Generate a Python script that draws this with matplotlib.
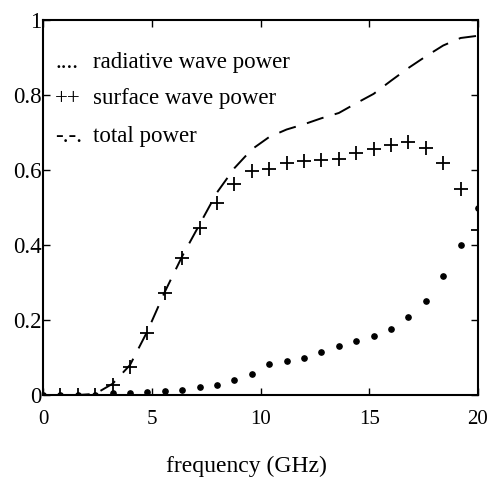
import numpy as np
import matplotlib
matplotlib.use('Agg')
import matplotlib.pyplot as plt

plt.rcParams['font.family'] = ['Liberation Serif', 'DejaVu Serif']

# frequency samples (GHz), step 0.8
freq = [0.0, 0.8, 1.6, 2.4, 3.2, 4.0, 4.8, 5.6, 6.4, 7.2, 8.0, 8.8, 9.6,
        10.4, 11.2, 12.0, 12.8, 13.6, 14.4, 15.2, 16.0, 16.8, 17.6, 18.4, 19.2, 20.0]

radiative = [0, 0, 0, 0, 0.006, 0.006, 0.007, 0.010, 0.014, 0.021, 0.027, 0.039, 0.056,
             0.084, 0.092, 0.099, 0.114, 0.130, 0.145, 0.158, 0.177, 0.208, 0.252, 0.318,
             0.400, 0.500]

surface = [0, 0, 0, 0, 0.027, 0.076, 0.165, 0.273, 0.366, 0.445, 0.513, 0.563, 0.598,
           0.602, 0.620, 0.625, 0.627, 0.630, 0.645, 0.656, 0.667, 0.675, 0.660, 0.618,
           0.548, 0.440]

total = [0, 0, 0, 0.003, 0.030, 0.080, 0.170, 0.275, 0.370, 0.455, 0.540, 0.605, 0.655,
         0.688, 0.708, 0.722, 0.738, 0.752, 0.778, 0.803, 0.838, 0.872, 0.903, 0.932,
         0.952, 0.958]

xticks = [0, 5, 10, 15, 20]
yticks = [0, 0.2, 0.4, 0.6, 0.8, 1]
ytick_labels = ['0', '0.2', '0.4', '0.6', '0.8', '1']

fig = plt.figure(figsize=(4.9, 4.82), dpi=100)
ax = fig.add_axes([43 / 490, 1 - 395 / 482, 435 / 490, 375 / 482])

ax.plot(freq, total, color='black', lw=1.4, dashes=(9, 6))
ax.plot(freq, surface, linestyle='none', marker='+', color='black', markersize=9.5, mew=1.3)
ax.plot(freq, radiative, linestyle='none', marker='o', color='black', markersize=3.8)

ax.set_xlim(0, 20)
ax.set_ylim(0, 1)
ax.set_xticks(xticks)
ax.set_yticks(yticks)
ax.set_yticklabels(ytick_labels)
ax.tick_params(direction='in', top=True, right=True, length=5, width=1)
ax.tick_params(axis='x', labelsize=15, pad=11)
ax.tick_params(axis='y', labelsize=16.5, pad=1)
for s in ax.spines.values():
    s.set_linewidth(1.5)

fig.text(246 / 490, 1 - 472 / 482, 'frequency (GHz)', fontsize=17,
         ha='center', va='baseline')

# legend drawn as text, like the original
fs = 16.5
for hx, ty, handle, label in [(55, 68, '....', 'radiative wave power'),
                              (55, 104, '++', 'surface wave power'),
                              (55, 142, '-.-.', 'total power')]:
    fig.text(hx / 490, 1 - ty / 482, handle, fontsize=fs, va='baseline')
    fig.text(93 / 490, 1 - ty / 482, label, fontsize=fs, va='baseline')

plt.savefig('out.png', dpi=100)
